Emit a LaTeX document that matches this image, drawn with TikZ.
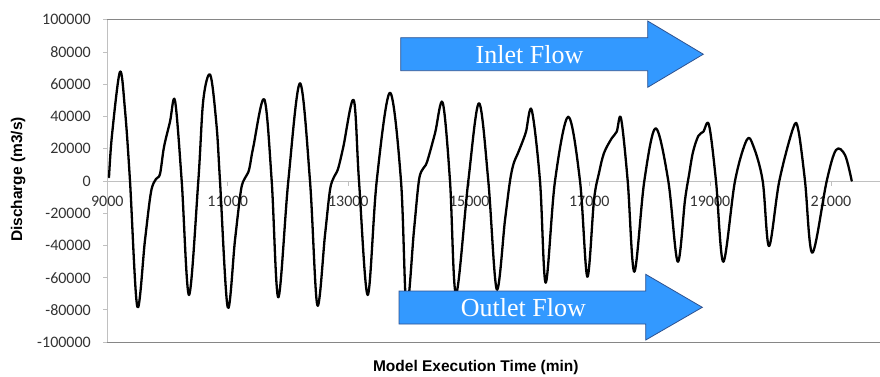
\documentclass[tikz,border=0pt]{standalone}
\usepackage{fontspec}
\newfontfamily\tickfont{Carlito}
\newfontfamily\titlefont{Liberation Sans}
\newfontfamily\flowfont{Liberation Serif}
\definecolor{flowblue}{RGB}{51,153,255}
\definecolor{flowedge}{RGB}{47,82,143}
\definecolor{framegray}{RGB}{134,134,134}
\definecolor{axisgray}{RGB}{192,192,192}

\begin{document}
\begin{tikzpicture}[x=1pt,y=-1pt,
  ticklabel/.style={font=\tickfont\fontsize{16}{18}\selectfont, text=black!80, inner sep=0pt},
  axistitle/.style={font=\titlefont\bfseries\fontsize{15.5}{18}\selectfont, inner sep=0pt},
  flowarrow/.style={fill=flowblue, draw=flowedge, line width=0.8pt, line join=miter},
  flowtext/.style={font=\flowfont\fontsize{26}{30}\selectfont, text=white, inner sep=0pt},
  plotframe/.style={draw=framegray, line width=1pt},
  axisline/.style={draw=axisgray, line width=1pt},
  series/.style={line width=2.3pt, line join=round, line cap=round}
]
\useasboundingbox (0,0) rectangle (880,376);

% plot area border and axes
\draw[plotframe] (103,19.8) -- (880,19.8);
\draw[plotframe] (103,342.2) -- (880,342.2);
\draw[axisline] (107.3,19.8) -- (107.3,342.2);
\draw[axisline] (107.3,181) -- (880,181);

% value axis: ticks and labels
\foreach \i/\lab [count=\n] in {5/100000, 4/80000, 3/60000, 2/40000, 1/20000, 0/0,
    -1/-20000, -2/-40000, -3/-60000, -4/-80000, -5/-100000} {
  \draw[axisline] (103,181-\i*32.24) -- (107.3,181-\i*32.24);
  \node[ticklabel, anchor=east] (ylab\n) at (91,181-\i*32.24) {\lab};
}

% time axis: ticks and labels
\foreach \x/\lab [count=\n] in {107.3/9000, 227.7/11000, 348.3/13000, 469.3/15000,
    589.3/17000, 710/19000, 831/21000} {
  \draw[axisline] (\x,181) -- (\x,185.5);
  \node[ticklabel] (xlab\n) at (\x,201) {\lab};
}

% discharge series
\draw[series] plot[smooth, tension=0.55] coordinates {
  (109,177.3) (112,135) (120,71.7) (125,110) (130,181) (137.3,306.7)
  (145,240) (151,192) (156,179) (160,174) (164,147) (170,121.7) (175,100.7)
  (181.7,181) (189,295) (198.3,181) (203.3,100) (210.3,75) (216.5,125)
  (220,181) (227.7,307.3)
  (235,240) (241,190) (245,178) (249,170) (253.3,147) (264.3,99.3)
  (271.7,181) (278.3,297.3) (288.3,181) (300,83.3) (310,181) (317.3,305)
  (325,235) (330,190) (334,177) (338,169) (343.3,147) (353.7,100)
  (359,181) (367.7,295)
  (376.7,181) (390,92.7) (401,181) (406.5,308)
  (414,230) (419,180) (423.3,168.3) (427,162) (435,133.3) (442.7,102.7)
  (450,181) (456,294) (468.3,181)
  (479,103.3) (488.3,181) (496.7,289.3)
  (505,220) (510,181) (513.5,164) (518,153) (522,143) (526,131.7) (531.7,110)
  (540,181) (545.7,282.7) (555,181) (568.3,116.7)
  (580,181) (587.3,276.7)
  (594,200) (599,173) (604,153) (611.7,138.3) (616.7,131.7) (621,118.3)
  (627.7,181) (634.3,271.7) (644.3,181) (655.7,128.3) (668.3,181)
  (677.7,261.7)
  (685,200) (689,175) (693,152) (698.3,136) (703.3,131.7) (709,125)
  (716,181) (723.3,261.7) (735,181) (746.7,140) (753.3,146) (762.7,181) (769,246)
  (779.3,181) (793.3,127.7) (798.3,130) (805,181) (812.3,252.7) (826.7,181)
  (836,150) (845,155) (851.7,180.7)
};

% flow direction arrows
\path[flowarrow] (400.7,37.7) -- (647.7,37.7) -- (647.7,21) -- (703.3,54.2)
  -- (647.7,87.3) -- (647.7,70.7) -- (400.7,70.7) -- cycle;
\node[flowtext] (inlet) at (529.5,54.2) {Inlet Flow};

\path[flowarrow] (399,291) -- (645.7,291) -- (645.7,274.3) -- (702.3,307.3)
  -- (645.7,340) -- (645.7,324) -- (399,324) -- cycle;
\node[flowtext] (outlet) at (523.3,307.5) {Outlet Flow};

% axis titles
\node[axistitle, rotate=90, anchor=base] (ytitle) at (22,179.5) {Discharge (m3/s)};
\node[axistitle, anchor=base] (xtitle) at (475.8,371.7) {Model Execution Time (min)};
\end{tikzpicture}
\end{document}
